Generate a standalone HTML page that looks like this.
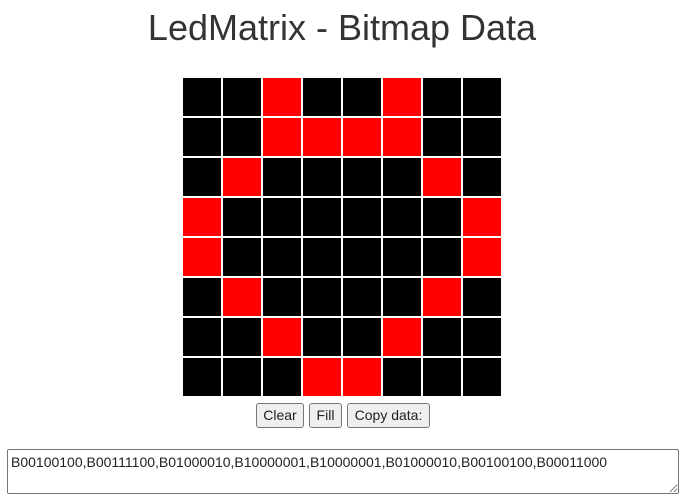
<!DOCTYPE html>
<html><head><meta charset="utf-8"><style>
body{margin:0;width:684px;height:503px;background:#fff;font-family:"Liberation Sans",sans-serif;position:relative;overflow:hidden}
h1{position:absolute;top:6px;left:0;width:684px;margin:0;text-align:center;font-weight:normal;font-size:36px;color:#333;line-height:44px}
#grid{position:absolute;left:183px;top:78px;width:318px;height:318px}
.cell{position:absolute;width:38px;height:38px;background:#000;cursor:pointer}
.cell.on{background:#f00}
.btn{position:absolute;top:403px;height:25px;box-sizing:border-box;border:1px solid #767676;border-radius:3px;background:#efefef;font-family:"Liberation Sans",sans-serif;font-size:14px;color:#222;padding:0;text-align:center;line-height:23px}
textarea{position:absolute;left:7px;top:449px;width:672px;height:45px;box-sizing:border-box;border:1px solid #767676;border-radius:2px;font-family:"Liberation Sans",sans-serif;font-size:14px;color:#222;padding:4px 3px;resize:vertical}
</style></head><body>
<h1>LedMatrix - Bitmap Data</h1>
<div id="grid"></div>
<button class="btn" style="left:256px;width:48px">Clear</button>
<button class="btn" style="left:309px;width:33px">Fill</button>
<button class="btn" style="left:347px;width:83px">Copy data:</button>
<textarea>B00100100,B00111100,B01000010,B10000001,B10000001,B01000010,B00100100,B00011000</textarea>
<script>
const rows = ["00100100","00111100","01000010","10000001","10000001","01000010","00100100","00011000"];
const grid = document.getElementById('grid');
rows.forEach((r, y) => {
  for (let x = 0; x < 8; x++) {
    const c = document.createElement('div');
    c.className = 'cell' + (r[x] === '1' ? ' on' : '');
    c.style.left = (x * 40) + 'px';
    c.style.top = (y * 40) + 'px';
    
    
    grid.appendChild(c);
  }
});
</script>
</body></html>
